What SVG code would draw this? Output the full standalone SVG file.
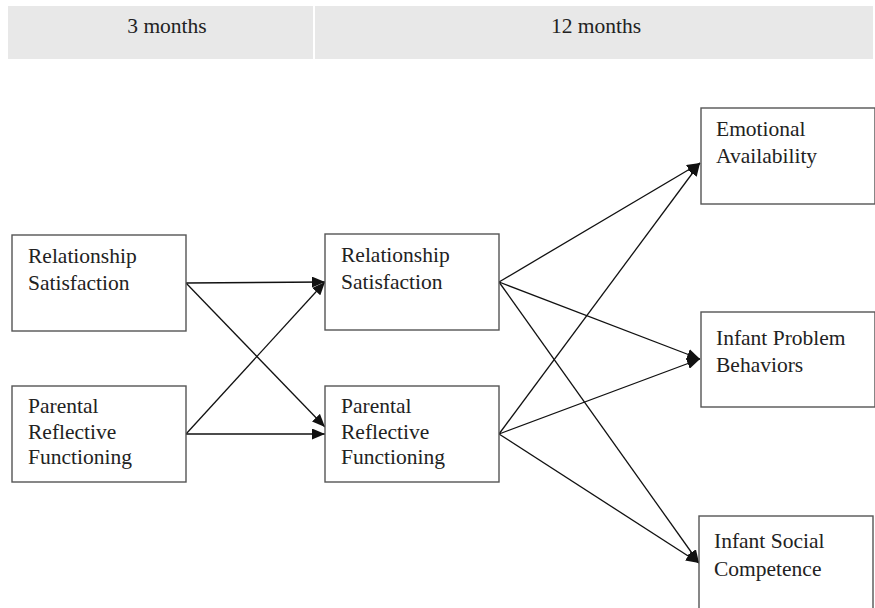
<svg xmlns="http://www.w3.org/2000/svg" width="875" height="608" viewBox="0 0 875 608">
<style>
.hdr{fill:#e8e8e8}
.box{fill:#fff;stroke:#555;stroke-width:1.4}
.t{font-family:'Liberation Serif','Times New Roman',serif;font-size:21.5px;fill:#222}
.c{stroke:#111;stroke-width:1.3;fill:none;marker-end:url(#ah)}
</style>
<defs>
<marker id="ah" markerUnits="userSpaceOnUse" markerWidth="13" markerHeight="11" refX="13" refY="5.5" orient="auto">
<path d="M0,0 L13,5.5 L0,11 z" fill="#111"/>
</marker>
</defs>
<rect width="875" height="608" fill="#fff"/>
<g id="header">
<rect class="hdr" x="8" y="6" width="305" height="53"/>
<rect class="hdr" x="315" y="6" width="558" height="53"/>
<text class="t" x="167" y="33" text-anchor="middle">3 months</text>
<text class="t" x="596" y="33" text-anchor="middle">12 months</text>
</g>
<g id="connectors">
<line class="c" x1="186" y1="283" x2="325" y2="282"/>
<line class="c" x1="186" y1="283" x2="325" y2="427"/>
<line class="c" x1="186" y1="434" x2="325" y2="282"/>
<line class="c" x1="186" y1="434" x2="325" y2="434"/>
<line class="c" x1="499" y1="282" x2="700" y2="163"/>
<line class="c" x1="499" y1="282" x2="700" y2="359"/>
<line class="c" x1="499" y1="282" x2="699" y2="563"/>
<line class="c" x1="499" y1="434" x2="700" y2="163"/>
<line class="c" x1="499" y1="434" x2="700" y2="359"/>
<line class="c" x1="499" y1="434" x2="699" y2="563"/>
</g>
<g id="rs3">
<rect class="box" x="12" y="235" width="174" height="96"/>
<text class="t" x="28" y="263">Relationship</text>
<text class="t" x="28" y="289.5">Satisfaction</text>
</g>
<g id="prf3">
<rect class="box" x="12" y="386" width="174" height="96"/>
<text class="t" x="28" y="413">Parental</text>
<text class="t" x="28" y="438.5">Reflective</text>
<text class="t" x="28" y="464">Functioning</text>
</g>
<g id="rs12">
<rect class="box" x="325" y="234" width="174" height="96"/>
<text class="t" x="341" y="262">Relationship</text>
<text class="t" x="341" y="288.5">Satisfaction</text>
</g>
<g id="prf12">
<rect class="box" x="325" y="386" width="174" height="96"/>
<text class="t" x="341" y="413">Parental</text>
<text class="t" x="341" y="438.5">Reflective</text>
<text class="t" x="341" y="464">Functioning</text>
</g>
<g id="ea">
<rect class="box" x="701" y="108" width="174" height="96"/>
<text class="t" x="716" y="136">Emotional</text>
<text class="t" x="716" y="162.5">Availability</text>
</g>
<g id="ipb">
<rect class="box" x="701" y="312" width="174" height="95"/>
<text class="t" x="716" y="345">Infant Problem</text>
<text class="t" x="716" y="371.5">Behaviors</text>
</g>
<g id="isc">
<rect class="box" x="699" y="516" width="174" height="96"/>
<text class="t" x="714" y="548">Infant Social</text>
<text class="t" x="714" y="575.5">Competence</text>
</g>
</svg>
